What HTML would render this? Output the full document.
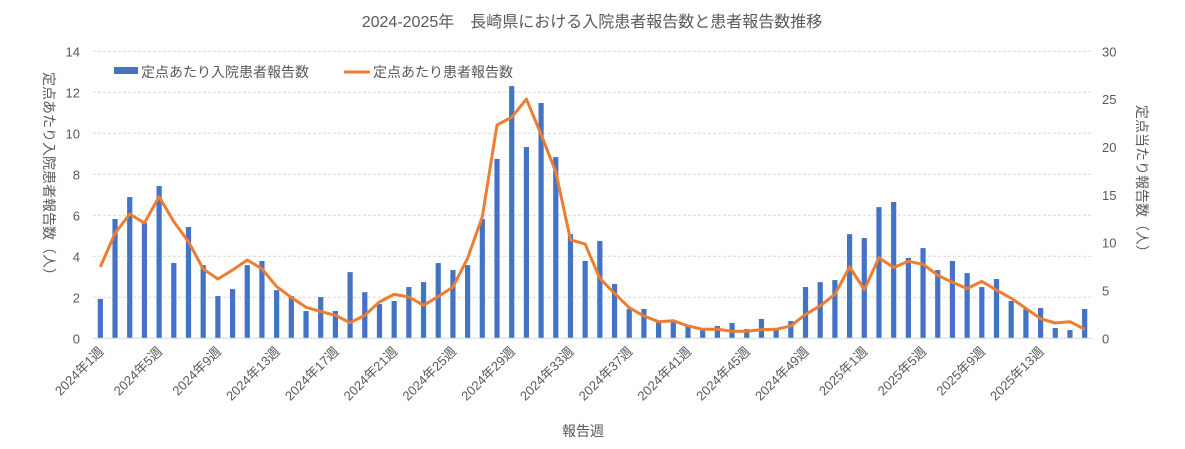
<!DOCTYPE html>
<html><head><meta charset="utf-8">
<style>
body{margin:0;background:#fff;}
svg text{font-family:"Liberation Sans","Noto Sans CJK JP",sans-serif;fill:#595959;}
</style></head>
<body>
<svg id="chart" width="1185" height="444" xmlns="http://www.w3.org/2000/svg">
<text x="592" y="27" font-size="16" text-anchor="middle">2024-2025年　長崎県における入院患者報告数と患者報告数推移</text>
<g id="grid"></g>
<g id="bars"></g>
<g id="line"></g>
<g id="axes"></g>
<g>
<rect x="114" y="67" width="24" height="7" fill="#4472C4"/>
<text x="141" y="77" font-size="14">定点あたり入院患者報告数</text>
<line x1="344" y1="72" x2="370" y2="72" stroke="#ED7D31" stroke-width="3"/>
<text x="373" y="77" font-size="14">定点あたり患者報告数</text>
</g>
<text font-size="14" transform="translate(44,72) rotate(90)">定点あたり入院患者報告数（人）</text>
<text font-size="14" transform="translate(1137,105) rotate(90)">定点当たり報告数（人）</text>
<text x="583" y="436" font-size="14" text-anchor="middle">報告週</text>
</svg>
<script>
const hospitalized=[1.92,5.82,6.89,5.64,7.43,3.67,5.43,3.57,2.06,2.40,3.57,3.77,2.35,2.06,1.33,2.01,1.33,3.23,2.25,1.67,1.82,2.50,2.74,3.67,3.33,3.57,5.82,8.75,12.3,9.33,11.48,8.84,5.08,3.77,4.75,2.65,1.43,1.43,0.84,0.84,0.65,0.45,0.6,0.75,0.45,0.94,0.45,0.84,2.5,2.74,2.84,5.08,4.89,6.4,6.65,3.92,4.4,3.33,3.77,3.18,2.5,2.89,1.82,1.43,1.48,0.5,0.4,1.43];
const patients=[7.45,10.97,12.99,12.05,14.8,12.2,10.1,7.24,6.2,7.14,8.18,7.28,5.4,4.28,3.24,2.8,2.4,1.63,2.4,3.8,4.6,4.32,3.45,4.36,5.36,8.36,12.7,22.3,23.1,25.0,21.3,17.4,10.3,9.85,6.27,4.7,3.2,2.33,1.74,1.84,1.3,0.94,0.96,0.73,0.73,0.9,0.94,1.3,2.5,3.4,4.6,7.45,5.1,8.43,7.4,8.05,7.73,6.6,5.85,5.2,5.95,5.05,4.18,3.13,2.05,1.6,1.74,0.94];
const leftTicks=[0,2,4,6,8,10,12,14];
const rightTicks=[0,5,10,15,20,25,30];
const xLabels=["2024年1週","2024年5週","2024年9週","2024年13週","2024年17週","2024年21週","2024年25週","2024年29週","2024年33週","2024年37週","2024年41週","2024年45週","2024年49週","2025年1週","2025年5週","2025年9週","2025年13週"];
const NS="http://www.w3.org/2000/svg";
const X0=93,X1=1092,Y0=338.3,YT=51.3;
const n=hospitalized.length, step=(X1-X0)/n;
const xc=i=>X0+step*(i+0.5);
const yL=v=>Y0-(v/14)*(Y0-YT);
const yR=v=>Y0-(v/30)*(Y0-YT);
function mk(tag,attrs,parent){const e=document.createElementNS(NS,tag);for(const k in attrs)e.setAttribute(k,attrs[k]);parent.appendChild(e);return e;}
const grid=document.getElementById('grid'),axes=document.getElementById('axes');
leftTicks.forEach((t,i)=>{
  const y=yL(t);
  if(t>0){const g=mk('line',{x1:X0,x2:X1,y1:y,y2:y,stroke:'#d9d9d9','stroke-dasharray':'3,2'},grid);
  
  }
  const tx=mk('text',{x:80,y:y+5,'font-size':13,'text-anchor':'end'},axes);tx.textContent=t;
  
  
});
rightTicks.forEach(t=>{
  const tx=mk('text',{x:1102,y:yR(t)+5,'font-size':13},axes);tx.textContent=t;
  
  
});
const ax=mk('line',{x1:X0,x2:X1,y1:Y0,y2:Y0,stroke:'#d9d9d9'},axes);


const bars=document.getElementById('bars');
hospitalized.forEach((v,i)=>{
  const y=yL(v);
  const r=mk('rect',{x:xc(i)-2.6,y:y,width:5.2,height:Y0-y,fill:'#4472C4'},bars);
  
  
});
const pts=patients.map((v,i)=>xc(i).toFixed(1)+','+yR(v).toFixed(1)).join(' ');
const pl=mk('polyline',{points:pts,fill:'none',stroke:'#ED7D31','stroke-width':3,'stroke-linejoin':'round'},document.getElementById('line'));


xLabels.forEach((lab,k)=>{
  const x=xc(k*4),y=Y0+14;
  const tx=mk('text',{x:x+4,y:y,'font-size':13,'text-anchor':'end',transform:`rotate(-45 ${x+4} ${y})`},axes);
  tx.textContent=lab;
  
  
});
</script>
</body></html>
